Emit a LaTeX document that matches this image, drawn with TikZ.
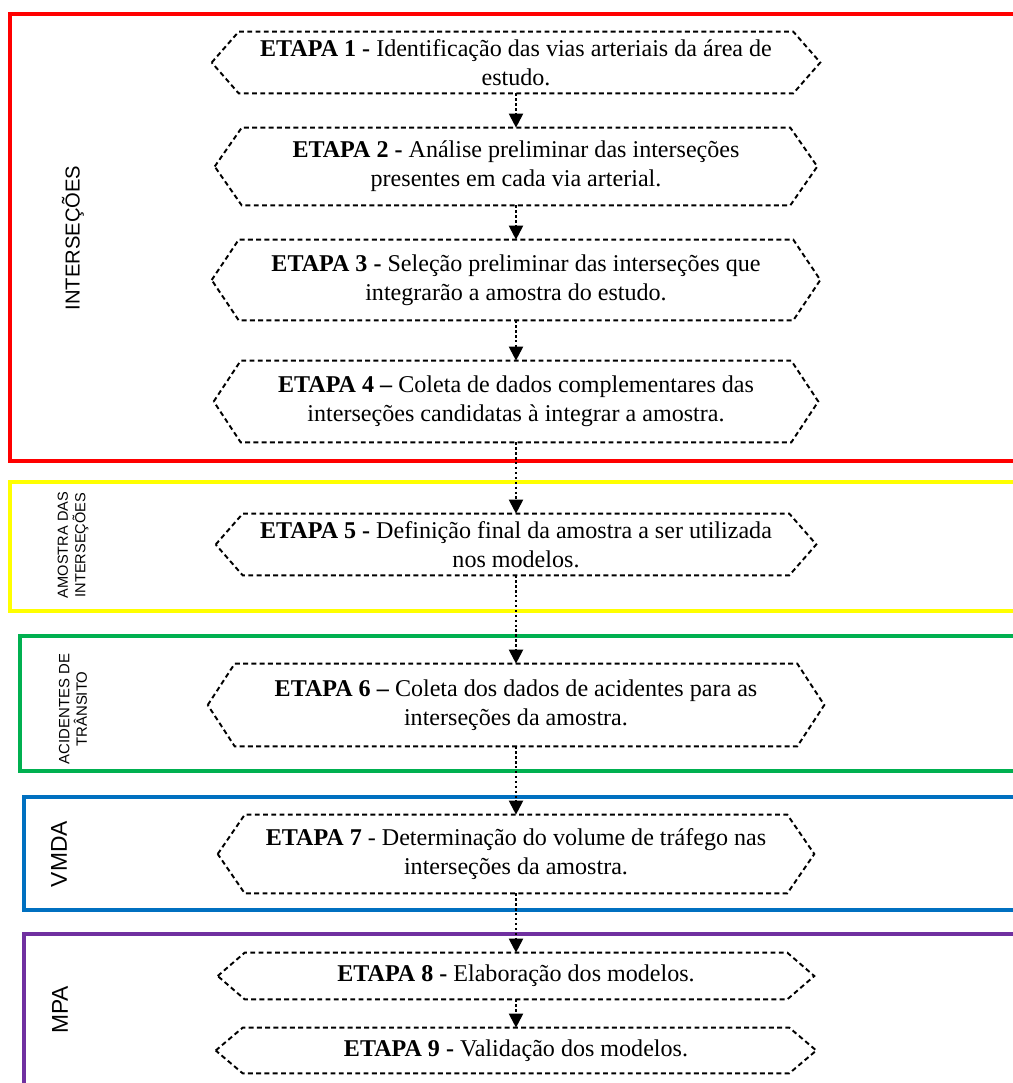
\documentclass[tikz,border=0pt]{standalone}
\usepackage{fontspec}
\setmainfont{Liberation Serif}
\newfontfamily\sidefont{Liberation Sans}
\usetikzlibrary{arrows.meta,calc}
\tikzstyle{etapa}=[inner sep=0pt,align=center,font=\fontsize{13.7}{16.6}\selectfont]
\tikzstyle{hexline}=[draw,line width=1.1pt,dash pattern=on 2.8pt off 1.9pt]
\tikzstyle{seta}=[draw,line width=1.2pt,dash pattern=on 1.4pt off 1.4pt,-{Triangle[width=8pt,length=8pt]}]
\tikzstyle{frame}=[line width=2.8pt]
\tikzstyle{sidelabel}=[rotate=90,align=center,inner sep=0pt]
\definecolor{fyellow}{RGB}{255,255,0}
\definecolor{fgreen}{RGB}{0,176,80}
\definecolor{fblue}{RGB}{0,112,192}
\definecolor{fpurple}{RGB}{112,48,160}

\begin{document}
\begin{tikzpicture}[x=0.02cm,y=-0.02cm]
    \useasboundingbox (0,0) rectangle (1013,1083);
    % Draw the coloured frames, open at the right
    \draw[frame,red] (1020,14) -- (10,14) -- (10,461) -- (1020,461);
    \draw[frame,fyellow] (1020,482) -- (10,482) -- (10,611) -- (1020,611);
    \draw[frame,fgreen] (1020,636) -- (20,636) -- (20,771) -- (1020,771);
    \draw[frame,fblue] (1020,797) -- (24,797) -- (24,910) -- (1020,910);
    \draw[frame,fpurple] (1020,934) -- (24,934) -- (24,1090);
    % Labels of the frames
    \node[sidelabel,font=\sidefont\fontsize{11.5}{13}\selectfont] (lint) at (73,238) {INTERSEÇÕES};
    \node[sidelabel,font=\sidefont\fontsize{8.3}{10}\selectfont] (lamo) at (73,545) {AMOSTRA DAS\\INTERSEÇÕES};
    \node[sidelabel,font=\sidefont\fontsize{8.5}{10}\selectfont] (lacid) at (73,709) {ACIDENTES DE\\TRÂNSITO};
    \node[sidelabel,font=\sidefont\fontsize{13}{15}\selectfont] (lvmda) at (59,854) {VMDA};
    \node[sidelabel,font=\sidefont\fontsize{13}{15}\selectfont] (lmpa) at (60,1010) {MPA};
    % First we draw the steps
    \foreach \pos/\name/\w/\h/\txt in {
        {(516,62.5)/e1/12.16cm/1.22cm/{\textbf{ETAPA 1 -} Identificação das vias arteriais da área de\\estudo.}},
        {(516,166.5)/e2/12.04cm/1.54cm/{\textbf{ETAPA 2 -} Análise preliminar das interseções\\presentes em cada via arterial.}},
        {(516,280)/e3/12.16cm/1.6cm/{\textbf{ETAPA 3 -} Seleção preliminar das interseções que\\integrarão a amostra do estudo.}},
        {(516,401.5)/e4/12.08cm/1.62cm/{\textbf{ETAPA 4 –} Coleta de dados complementares das\\interseções candidatas à integrar a amostra.}},
        {(516,544.5)/e5/12cm/1.22cm/{\textbf{ETAPA 5 -} Definição final da amostra a ser utilizada\\nos modelos.}},
        {(516,705)/e6/12.32cm/1.64cm/{\textbf{ETAPA 6 –} Coleta dos dados de acidentes para as\\interseções da amostra.}},
        {(516,854)/e7/11.92cm/1.56cm/{\textbf{ETAPA 7} - Determinação do volume de tráfego nas\\interseções da amostra.}},
        {(516,976)/e8/11.92cm/0.92cm/{\textbf{ETAPA 8 -} Elaboração dos modelos.}},
        {(516,1050.5)/e9/12cm/0.9cm/{\textbf{ETAPA 9 -} Validação dos modelos.}}}
        \node[etapa,minimum width=\w,minimum height=\h] (\name) at \pos {\txt};
    % Dashed hexagons round the steps
    \foreach \name in {e1,e2,e3,e4,e5,e6,e7,e8,e9}
        \draw[hexline] (\name.west) -- ([xshift=0.54cm]\name.north west) -- ([xshift=-0.54cm]\name.north east)
            -- (\name.east) -- ([xshift=-0.54cm]\name.south east) -- ([xshift=0.54cm]\name.south west) -- cycle;
    % Connect the steps
    \foreach \source/\dest in {e1/e2,e2/e3,e3/e4,e4/e5,e5/e6,e6/e7,e7/e8,e8/e9}
        \path[seta] (\source.south) -- (\dest.north);
\end{tikzpicture}
\end{document}
